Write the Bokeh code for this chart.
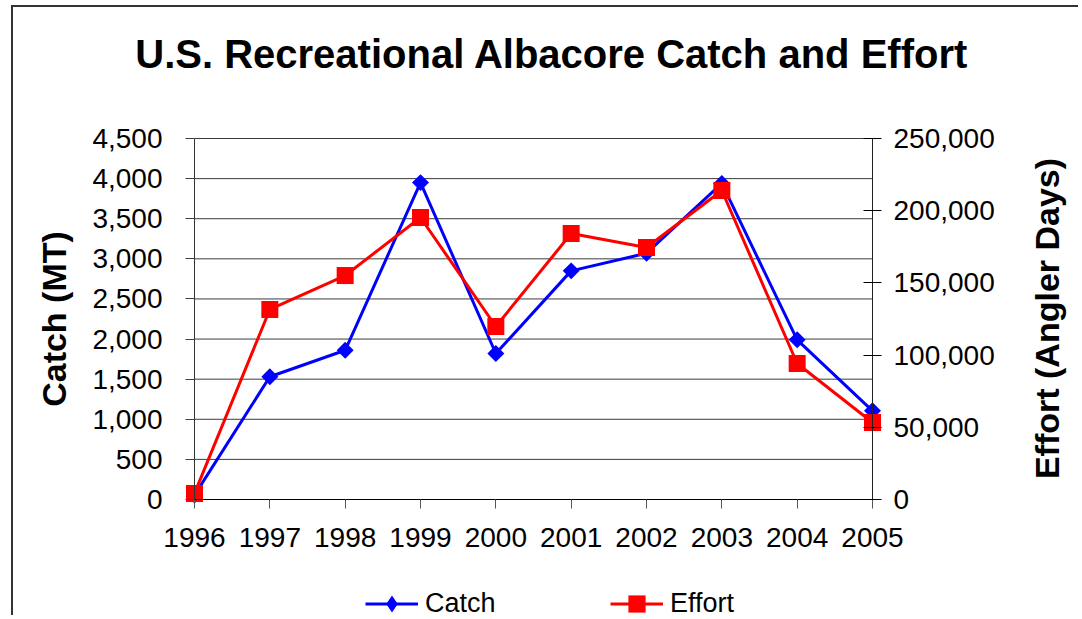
import math
from bokeh.plotting import figure
from bokeh.models import (Range1d, LinearAxis, FixedTicker, NumeralTickFormatter,
                          Legend, LegendItem, Label)
from bokeh.embed import file_html
from bokeh.resources import INLINE

# ---- data ----
years = [1996, 1997, 1998, 1999, 2000, 2001, 2002, 2003, 2004, 2005]
catch_mt = [55, 1530, 1860, 3950, 1820, 2850, 3070, 3940, 1990, 1105]
effort_days = [4200, 131600, 155100, 195300, 119800, 184200, 174500, 214000, 94200, 53300]
catch_ticks = [0, 500, 1000, 1500, 2000, 2500, 3000, 3500, 4000, 4500]
effort_ticks = [0, 50000, 100000, 150000, 200000, 250000]
title_text = "U.S. Recreational Albacore Catch and Effort"
catch_label = "Catch (MT)"
effort_label = "Effort (Angler Days)"

FONT = "Liberation Sans"

# ---- layout constants (canvas pixels) ----
W, H = 1067, 610
X_FIRST_PX, X_LAST_PX = 181, 859     # first / last category
Y_TOP_PX, Y_ZERO_PX = 131, 492       # top gridline / zero line
PX_PER_YEAR = (X_LAST_PX - X_FIRST_PX) / (years[-1] - years[0])
plot_px = Y_ZERO_PX - Y_TOP_PX


def yr(top_val):
    per_px = top_val / plot_px
    return Range1d(-(H - Y_ZERO_PX) * per_px, top_val + Y_TOP_PX * per_px)


def px_to_x(px):
    return years[0] + (px - X_FIRST_PX) / PX_PER_YEAR


def px_to_y(py):
    return (Y_ZERO_PX - py) * catch_ticks[-1] / plot_px


p = figure(width=W, height=H, output_backend="svg", toolbar_location=None,
           x_range=Range1d(px_to_x(0), px_to_x(W)),
           y_range=yr(catch_ticks[-1]),
           min_border_left=0, min_border_right=0, min_border_top=0, min_border_bottom=0,
           styles={"border-left": "2px solid #333333", "border-top": "2px solid #333333",
                   "margin-left": "11px", "margin-top": "5px"})
p.outline_line_color = None
p.background_fill_color = "white"
p.border_fill_color = "white"
p.xgrid.visible = False
p.ygrid.visible = False

# title
p.add_layout(Label(x=px_to_x(538.5), y=px_to_y(46), text=title_text, text_font=FONT,
                   text_font_size="40px", text_font_style="bold", text_color="black",
                   text_align="center", text_baseline="middle"))

# horizontal gridlines between the two value axes
n = len(catch_ticks)
p.segment(x0=[years[0]] * n, y0=catch_ticks, x1=[years[-1]] * n, y1=catch_ticks,
          line_color="#3c3c3c", line_width=1, level="underlay")

# x axis, fixed at zero
xa = p.xaxis[0]
xa.fixed_location = 0
xa.bounds = (years[0], years[-1])
xa.ticker = FixedTicker(ticks=years)
xa.formatter = NumeralTickFormatter(format="0")
xa.major_label_text_font = FONT
xa.major_label_text_font_size = "28px"
xa.major_label_text_color = "black"
xa.major_label_standoff = 19
xa.major_tick_out = 9
xa.major_tick_in = 0
xa.minor_tick_line_color = None
xa.major_tick_line_color = "#555555"
xa.axis_line_color = "black"

# left axis at the first category
ya = p.yaxis[0]
ya.fixed_location = years[0]
ya.bounds = (catch_ticks[0], catch_ticks[-1])
ya.ticker = FixedTicker(ticks=catch_ticks)
ya.formatter = NumeralTickFormatter(format="0,0")
ya.major_label_text_font = FONT
ya.major_label_text_font_size = "28px"
ya.major_label_text_color = "black"
ya.major_label_standoff = 23
ya.major_tick_out = 9
ya.major_tick_in = 0
ya.minor_tick_line_color = None
ya.major_tick_line_color = "#404040"
ya.axis_line_color = "#333333"
ya.axis_label = catch_label
ya.axis_label_text_font = FONT
ya.axis_label_text_font_size = "34px"
ya.axis_label_text_font_style = "bold"
ya.axis_label_text_color = "black"
ya.axis_label_standoff = 16

# right axis at the last category
p.extra_y_ranges = {"effort": yr(effort_ticks[-1])}
ra = LinearAxis(y_range_name="effort")
ra.fixed_location = years[-1]
ra.bounds = (effort_ticks[0], effort_ticks[-1])
ra.ticker = FixedTicker(ticks=effort_ticks)
ra.formatter = NumeralTickFormatter(format="0,0")
ra.major_label_text_font = FONT
ra.major_label_text_font_size = "28px"
ra.major_label_text_color = "black"
ra.major_label_standoff = 12
ra.major_tick_out = 9
ra.major_tick_in = 9
ra.major_tick_line_color = "black"
ra.minor_tick_line_color = None
ra.axis_line_color = "#222222"
p.add_layout(ra, "right")

# right axis title, reading bottom-to-top like the left one
p.add_layout(Label(x=px_to_x(1033), y=px_to_y(311), text=effort_label, angle=math.pi / 2,
                   text_font=FONT, text_font_size="34px", text_font_style="bold",
                   text_color="black", text_align="center", text_baseline="middle"))

# series
l1 = p.line(years, catch_mt, line_color="#0000FF", line_width=3)
s1 = p.scatter(years, catch_mt, marker="square", angle=math.pi / 4, size=12,
               fill_color="#0000FF", line_color=None)
l2 = p.line(years, effort_days, y_range_name="effort", line_color="#FF0000", line_width=3)
s2 = p.scatter(years, effort_days, y_range_name="effort", marker="square", size=17,
               fill_color="#FF0000", line_color=None)

# legend-only diamond for the Catch key (legend glyphs are drawn unrotated)
k1 = p.scatter(years, catch_mt, marker="diamond", fill_color="#0000FF", line_color=None,
               visible=False)

legend = Legend(items=[LegendItem(label="Catch", renderers=[l1, k1]),
                       LegendItem(label="Effort", renderers=[l2, s2])],
                location=(352, -8), orientation="horizontal",
                glyph_width=53, glyph_height=43, label_standoff=7, label_width=185,
                spacing=0, padding=0, margin=0,
                border_line_color=None, background_fill_alpha=0,
                label_text_font=FONT, label_text_font_size="27px",
                label_text_color="black")
p.add_layout(legend)

open("out.html", "w").write(file_html(p, INLINE))
